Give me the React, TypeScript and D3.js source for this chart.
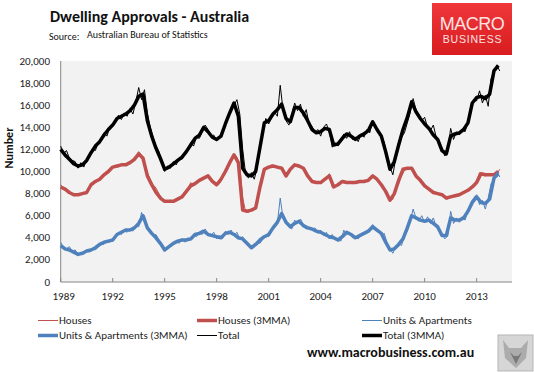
import * as d3 from "d3";

// Monthly ABS dwelling approvals, '000s. Raw series sampled every 2 months from Jan 1989,
// 3MMA series sampled quarterly from Jan 1989.
const housesRawK = [
  8.8, 8.5, 8.4, 8.2, 7.9, 7.8, 8.0, 7.9, 8.1, 8.0, 8.5, 8.9,
  9.0, 9.2, 9.4, 9.6, 9.9, 10.1, 10.4, 10.5, 10.4, 10.7, 10.6, 10.6,
  10.8, 10.9, 11.3, 11.8, 11.4, 10.9, 9.9, 9.3, 8.8, 8.5, 8.0, 7.6,
  7.3, 7.2, 7.4, 7.3, 7.5, 7.6, 7.8, 8.0, 8.4, 9.0, 8.7, 9.0,
  9.2, 9.3, 9.5, 9.6, 9.2, 9.0, 8.7, 8.9, 9.4, 9.8, 10.3, 10.9,
  11.6, 11.3, 10.5, 7.6, 6.4, 6.3, 6.5, 6.6, 6.9, 8.8, 9.9, 10.3,
  10.4, 10.6, 10.5, 10.3, 10.4, 10.2, 9.5, 9.9, 10.5, 10.7, 10.4, 10.5,
  10.2, 10.0, 9.5, 9.2, 9.1, 9.0, 8.9, 9.2, 9.4, 9.8, 8.6, 8.7,
  8.8, 9.0, 9.2, 9.0, 9.0, 8.9, 9.0, 9.1, 9.0, 9.2, 9.2, 9.4,
  9.6, 9.5, 9.1, 8.9, 8.5, 8.0, 7.4, 7.5, 8.3, 8.9, 9.6, 10.1,
  10.3, 10.3, 10.2, 9.7, 9.4, 9.1, 8.8, 8.6, 8.4, 8.2, 8.1, 8.0,
  7.9, 7.7, 7.5, 7.8, 7.7, 7.9, 7.9, 8.1, 8.2, 8.4, 8.6, 8.8,
  9.2, 9.9, 9.7, 9.6, 9.7, 9.7, 9.6, 9.8, 10.2,
];
const unitsRawK = [
  3.6, 3.1, 3.0, 3.2, 2.8, 2.9, 2.5, 2.7, 2.5, 2.9, 2.7, 3.0,
  2.9, 3.2, 3.5, 3.4, 3.8, 3.6, 3.9, 4.2, 4.5, 4.3, 4.7, 4.5,
  4.8, 4.6, 5.1, 5.0, 6.3, 5.6, 5.0, 4.6, 4.2, 4.3, 3.8, 3.4,
  2.9, 3.0, 3.3, 3.4, 3.7, 3.5, 3.9, 3.6, 4.0, 3.8, 4.3, 4.1,
  4.5, 4.3, 4.8, 4.4, 4.2, 4.5, 3.9, 4.2, 3.9, 4.6, 4.3, 4.7,
  4.2, 4.5, 3.9, 4.1, 3.6, 3.4, 3.0, 3.3, 3.6, 3.5, 3.9, 4.2,
  4.1, 4.6, 5.0, 5.3, 7.6, 5.7, 5.6, 5.0, 4.8, 5.6, 5.3, 5.7,
  5.2, 4.8, 5.0, 4.7, 4.9, 4.4, 4.7, 4.2, 4.5, 3.9, 4.3, 3.8,
  3.9, 3.7, 4.7, 4.3, 4.5, 4.0, 4.1, 3.9, 4.3, 4.5, 4.4, 4.8,
  5.2, 4.8, 4.6, 4.2, 4.4, 3.5, 3.0, 2.6, 3.2, 3.5, 3.3, 4.2,
  4.6, 5.5, 6.6, 5.8, 5.5, 6.0, 5.4, 5.9, 5.3, 5.8, 5.0, 4.6,
  4.3, 3.9, 4.2, 6.4, 5.3, 5.8, 5.4, 5.9, 5.6, 6.5, 7.2, 7.6,
  7.9, 7.0, 7.4, 6.6, 7.6, 8.9, 9.2, 10.0, 9.5,
];
const totalRawK = [
  12.3, 11.6, 11.9, 11.2, 11.0, 10.9, 10.3, 10.8, 10.4, 11.1, 11.3, 12.0,
  11.9, 12.6, 12.9, 13.5, 13.2, 14.0, 14.3, 14.5, 15.1, 14.7, 15.3, 15.0,
  15.7, 15.2, 16.3, 17.6, 16.5, 17.4, 15.3, 14.0, 13.1, 12.3, 11.8, 10.8,
  10.0, 10.5, 10.3, 10.9, 10.6, 11.2, 11.1, 11.6, 11.9, 12.6, 12.3, 13.1,
  13.0, 13.6, 14.2, 13.8, 13.2, 13.3, 12.8, 13.0, 13.5, 14.4, 14.8, 15.5,
  16.0, 16.5, 15.2, 12.0, 9.8, 9.4, 9.9, 9.3, 10.3, 12.4, 13.6, 14.8,
  14.3, 14.9, 15.4, 15.0, 17.8, 15.5, 14.6, 14.2, 15.1, 16.2, 15.5, 16.1,
  15.0, 15.6, 14.3, 14.1, 13.5, 13.8, 13.2, 14.0, 14.3, 13.6, 12.2, 12.6,
  12.3, 12.9, 13.4, 13.0, 13.6, 12.9, 13.1, 12.7, 13.4, 13.1, 13.8, 13.5,
  14.6, 14.2, 13.6, 13.4, 12.6, 11.5, 10.4, 9.7, 11.2, 12.3, 13.1, 13.5,
  14.4, 15.3, 16.6, 15.6, 15.1, 14.6, 14.9, 14.0, 13.7, 14.2, 13.1, 12.6,
  12.0, 11.4, 11.8, 13.9, 12.9, 13.6, 13.3, 13.8, 13.6, 14.5, 15.9, 16.4,
  16.4, 17.3, 16.2, 16.9, 15.9, 18.4, 19.0, 19.6, 19.1,
];

const houses3mmaK = [
  8.6, 8.4, 8.1, 7.9, 7.9, 8.0, 8.1, 8.8, 9.1, 9.3, 9.7, 10.0,
  10.4, 10.5, 10.6, 10.6, 10.8, 11.1, 11.6, 11.2, 9.6, 8.8, 8.1, 7.6,
  7.3, 7.3, 7.3, 7.5, 7.7, 8.2, 8.7, 8.9, 9.2, 9.4, 9.6, 9.1,
  8.8, 9.3, 10.0, 10.8, 11.5, 10.8, 6.5, 6.4, 6.5, 6.7, 8.6, 10.2,
  10.4, 10.5, 10.4, 10.3, 9.6, 10.2, 10.6, 10.5, 10.3, 9.6, 9.1, 9.0,
  9.0, 9.3, 9.6, 8.6, 8.8, 9.1, 9.0, 9.0, 9.0, 9.1, 9.1, 9.2,
  9.6, 9.3, 8.8, 8.2, 7.4, 8.0, 9.2, 10.2, 10.3, 10.3, 9.6, 9.2,
  8.7, 8.4, 8.1, 8.0, 7.9, 7.6, 7.7, 7.8, 7.9, 8.1, 8.3, 8.6,
  9.0, 9.8, 9.7, 9.7, 9.7, 10.0,
];
const units3mmaK = [
  3.3, 3.0, 2.9, 2.7, 2.5, 2.6, 2.8, 2.9, 3.1, 3.4, 3.6, 3.7,
  3.8, 4.3, 4.5, 4.7, 4.7, 4.9, 5.3, 6.0, 4.9, 4.4, 4.0, 3.5,
  2.9, 3.2, 3.5, 3.7, 3.8, 3.8, 3.9, 4.3, 4.4, 4.6, 4.3, 4.2,
  4.1, 4.0, 4.4, 4.5, 4.3, 4.0, 3.9, 3.5, 3.1, 3.4, 3.8, 4.1,
  4.3, 4.9, 5.4, 6.2, 5.4, 5.0, 5.3, 5.5, 5.1, 4.9, 4.8, 4.6,
  4.5, 4.3, 4.1, 4.0, 3.8, 4.1, 4.5, 4.3, 4.0, 4.2, 4.4, 4.6,
  5.0, 4.7, 4.4, 3.6, 2.9, 3.0, 3.4, 3.9, 4.9, 6.0, 5.8, 5.6,
  5.5, 5.6, 5.3, 5.0, 4.2, 4.2, 5.8, 5.6, 5.6, 5.8, 6.4, 7.2,
  7.7, 7.2, 7.1, 7.5, 9.4, 9.8,
];
const total3mmaK = [
  12.0, 11.5, 11.1, 10.7, 10.5, 10.6, 11.0, 11.7, 12.3, 12.7, 13.3, 13.8,
  14.2, 14.8, 15.0, 15.2, 15.5, 16.0, 16.8, 17.0, 14.6, 13.2, 12.1, 11.2,
  10.2, 10.4, 10.7, 11.0, 11.3, 11.8, 12.4, 13.0, 13.3, 14.0, 13.6, 13.1,
  12.9, 13.2, 14.3, 15.3, 16.2, 15.0, 10.3, 9.7, 9.6, 10.0, 12.2, 14.4,
  14.6, 15.2, 15.6, 16.1, 14.8, 14.5, 15.8, 15.8, 15.3, 14.6, 13.8, 13.5,
  13.6, 13.9, 13.8, 12.4, 12.5, 13.0, 13.4, 13.2, 12.9, 13.2, 13.4, 13.7,
  14.5, 13.8, 13.2, 11.8, 10.2, 10.9, 12.4, 13.8, 14.9, 16.3, 15.4, 14.8,
  14.3, 13.9, 13.3, 12.9, 11.9, 11.6, 13.2, 13.4, 13.5, 13.8, 14.4, 16.2,
  16.7, 16.8, 16.6, 17.0, 19.1, 19.6,
];

const yTicks = [0, 2000, 4000, 6000, 8000, 10000, 12000, 14000, 16000, 18000, 20000];
const xTickYears = [1989, 1992, 1995, 1998, 2001, 2004, 2007, 2010, 2013];

const RED = "#c0504d";
const BLUE = "#4f81bd";
const BLACK = "#000000";
const FONT = "Carlito, Lato, 'Liberation Sans', sans-serif";

type Pt = [number, number];

const bimonthly = (vals: number[]): Pt[] => vals.map((v, i) => [1989 + (i * 2) / 12, v * 1000]);
const quarterly = (vals: number[]): Pt[] => vals.map((v, i) => [1989 + i * 0.25, v * 1000]);

const series = [
  { name: "Houses", data: bimonthly(housesRawK), color: RED, w: 1 },
  { name: "Houses (3MMA)", data: quarterly(houses3mmaK), color: RED, w: 3.5 },
  { name: "Units & Apartments", data: bimonthly(unitsRawK), color: BLUE, w: 1 },
  { name: "Units & Apartments (3MMA)", data: quarterly(units3mmaK), color: BLUE, w: 3.5 },
  { name: "Total", data: bimonthly(totalRawK), color: BLACK, w: 1 },
  { name: "Total (3MMA)", data: quarterly(total3mmaK), color: BLACK, w: 3.5 },
];

export default function App() {
  const width = 534;
  const height = 372;
  const plot = { left: 60.7, right: 512, top: 61, bottom: 282 };

  const x = d3.scaleLinear().domain([1989, 2015.04]).range([plot.left, plot.right]);
  const y = d3.scaleLinear().domain([0, 20000]).range([plot.bottom, plot.top]);
  const line = d3
    .line<Pt>()
    .x((d) => x(d[0]))
    .y((d) => y(d[1]));
  const fmt = d3.format(",");

  // legend: 3 columns x 2 rows
  const legendCols = [38, 197, 362];
  const legendRows = [320.5, 335.5];

  return (
    <svg
      width={width}
      height={height}
      style={{ position: "absolute", left: 0, top: 0, background: "#fff" }}
      fontFamily={FONT}
    >
      <rect width={width} height={height} fill="#fff" />

      {/* title block */}
      <text x={50} y={22} fontSize={16} fontWeight="bold" fill="#111">
        Dwelling Approvals - Australia
      </text>
      <text x={49} y={40} fontSize={10} fill="#111">
        Source:
      </text>
      <text x={87} y={38} fontSize={10} fill="#111">
        Australian Bureau of Statistics
      </text>

      {/* logo */}
      <defs>
        <linearGradient id="logoGrad" x1="0" y1="0" x2="0" y2="1">
          <stop offset="0" stopColor="#f0373a" />
          <stop offset="1" stopColor="#d81c20" />
        </linearGradient>
      </defs>
      <rect x={432} y={3} width={80} height={52} fill="url(#logoGrad)" />
      <text x={472} y={30} fontSize={18} textAnchor="middle" fill="#fbe3e3" fontFamily="'Liberation Sans', sans-serif" letterSpacing={-0.5}>
        MACRO
      </text>
      <text x={472.5} y={42.5} fontSize={10.5} textAnchor="middle" fill="#fbe3e3" fontFamily="'Liberation Sans', sans-serif" letterSpacing={0.8}>
        BUSINESS
      </text>

      {/* plot area */}
      <rect
        x={plot.left}
        y={plot.top}
        width={plot.right - plot.left}
        height={plot.bottom - plot.top}
        fill="#f2f2f2"
      />

      {/* y axis */}
      <line x1={plot.left} x2={plot.left} y1={plot.top} y2={plot.bottom} stroke="#868686" />
      {yTicks.map((t) => (
        <text
          key={t}
          x={50}
          y={y(t)}
          fontSize={11}
          textAnchor="end"
          dominantBaseline="central"
          fill="#222"
        >
          {fmt(t)}
        </text>
      ))}
      <text
        transform={`translate(9,148) rotate(-90)`}
        fontSize={12}
        fontWeight="bold"
        textAnchor="middle"
        dominantBaseline="central"
        fill="#111"
      >
        Number
      </text>

      {/* x axis */}
      <line x1={plot.left} x2={plot.right} y1={plot.bottom} y2={plot.bottom} stroke="#868686" />
      {xTickYears.map((yr) => (
        <g key={yr}>
          <line x1={x(yr)} x2={x(yr)} y1={plot.bottom - 4} y2={plot.bottom} stroke="#868686" />
          <text
            x={x(yr) + (yr === 1989 ? 3 : 0)}
            y={296}
            fontSize={11}
            textAnchor="middle"
            dominantBaseline="central"
            fill="#222"
          >
            {yr}
          </text>
        </g>
      ))}

      {/* series */}
      {series.map((s) => (
        <path
          key={s.name}
          d={line(s.data) ?? ""}
          fill="none"
          stroke={s.color}
          strokeWidth={s.w}
          strokeLinejoin="round"
        />
      ))}

      {/* legend */}
      {series.map((s, i) => {
        const col = legendCols[i % 3 === 0 ? 0 : 0];
        const row = Math.floor(i / 3);
        const cx = legendCols[i % 3];
        const cy = legendRows[row];
        void col;
        return (
          <g key={s.name}>
            <line x1={cx} x2={cx + 20} y1={cy} y2={cy} stroke={s.color} strokeWidth={s.w} />
            <text x={cx + 21} y={cy} fontSize={11} dominantBaseline="central" fill="#222">
              {s.name}
            </text>
          </g>
        );
      })}

      {/* footer */}
      <text x={307} y={352} fontSize={14} fontWeight="bold" dominantBaseline="central" fill="#111">
        www.macrobusiness.com.au
      </text>
      <g>
        <rect x={498} y={335} width={35} height={36} fill="#d6d6d6" stroke="#b5b5b5" />
        <path d="M503,340 L509,348 L521,348 L528,340 L526,358 L516,368 L505,358 Z" fill="#9a9a9a" opacity={0.7} />
        <path d="M510,352 L514,356 L518,356 L522,352 L516,364 Z" fill="#555" opacity={0.6} />
      </g>
    </svg>
  );
}
